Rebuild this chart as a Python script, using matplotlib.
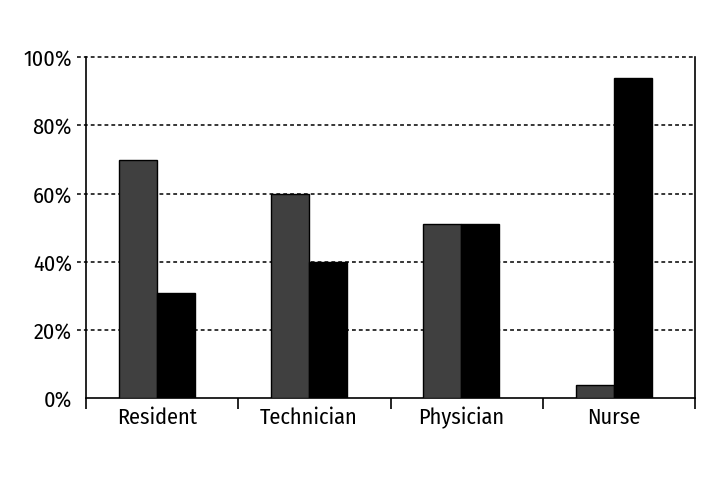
import numpy as np
import matplotlib.pyplot as plt

DARK = "#404040"
BLACK = "#000000"

categories = ["Resident", "Technician", "Physician", "Nurse"]
series_a = [70, 60, 51, 4]
series_b = [31, 40, 51, 94]
y_ticks = [0, 20, 40, 60, 80, 100]

plt.rcParams["font.family"] = ["Fira Sans Condensed", "DejaVu Sans"]

fig = plt.figure(figsize=(7.2, 4.8), dpi=100)
ax = fig.add_axes([0.1194, 0.1698, 0.846, 0.711])

x = np.arange(len(categories)) - 0.035
w = 0.25
ax.bar(x - w / 2, series_a, w, color=DARK, edgecolor=BLACK, linewidth=1, zorder=3)
ax.bar(x + w / 2, series_b, w, color=BLACK, edgecolor=BLACK, linewidth=1, zorder=3)

ax.set_xlim(-0.5, len(categories) - 0.5)
ax.set_ylim(0, 100)

# dashed grid, running a little past the left axis
for yv in y_ticks[1:]:
    ax.plot([-0.015, 1], [yv, yv], transform=ax.get_yaxis_transform(),
            color="black", lw=1.1, ls=(0, (2.5, 2)), clip_on=False, zorder=1)

ax.set_yticks(y_ticks)
ax.set_yticklabels([f"{v}%" for v in y_ticks], fontsize=16)
ax.tick_params(axis="y", length=0, pad=10)

# category boundaries as ticks, labels in the middle
ax.set_xticks(np.arange(len(categories) + 1) - 0.5)
ax.set_xticklabels([])
ax.set_xticks(np.arange(len(categories)) - 0.035, minor=True)
ax.set_xticklabels(categories, minor=True, fontsize=16)
ax.tick_params(axis="x", which="major", length=8, width=1.2, direction="out")
ax.tick_params(axis="x", which="minor", length=0, pad=6)

ax.spines["top"].set_visible(False)
for s in ["left", "right", "bottom"]:
    ax.spines[s].set_linewidth(1.2)

fig.savefig("out.png", dpi=100)
